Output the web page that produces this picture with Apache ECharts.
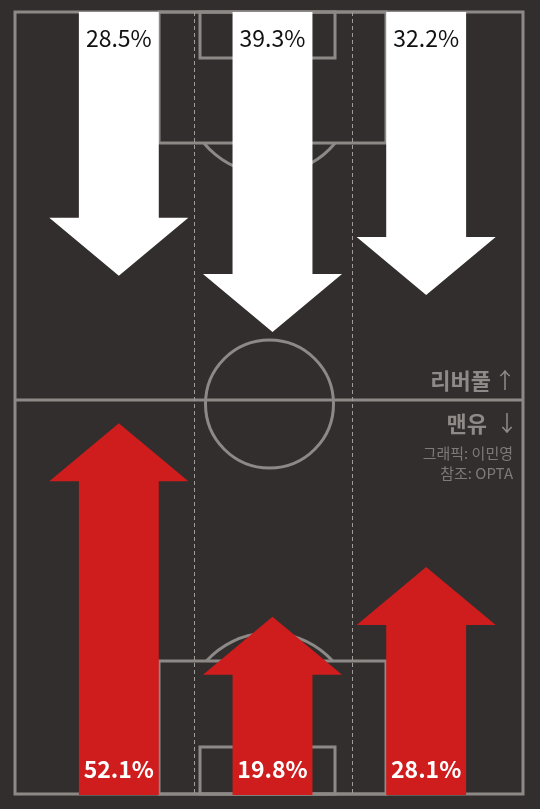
<!DOCTYPE html>
<html>
<head>
<meta charset="utf-8">
<script src="https://cdn.jsdelivr.net/npm/echarts@6/dist/echarts.min.js"></script>
<style>
    html, body { margin: 0; padding: 0; background: #322e2d; }
    #main { width: 540px; height: 809px; }
</style>
</head>
<body>
<div id="main"></div>
<script>
// 공격 방향별 비율 (왼쪽 / 중앙 / 오른쪽)
var zones = ['왼쪽', '중앙', '오른쪽'];
var liverpool = [28.5, 39.3, 32.2];
var manUtd = [52.1, 19.8, 28.1];

(function () {
    var myChart = echarts.init(document.getElementById('main'));

    var lineColor = '#8d8987';
    var font = '"Noto Sans CJK KR", "Noto Sans", sans-serif';

    // 화살표 하나 그리기 (dir 1 = 아래로, -1 = 위로)
    function makeArrow(dir, fill, textColor, weight) {
        return function (params, api) {
            var cat = api.value(0);
            var val = api.value(1);
            var tip = api.coord([cat, val]);
            var band = api.size([1, 0])[0];
            var cs = params.coordSys;
            var base = dir > 0 ? cs.y : cs.y + cs.height;
            var cx = tip[0];
            var sw = band * 0.52 / 2;
            var hw = band * 0.905 / 2;
            var hh = 58;
            var neck = tip[1] - dir * hh;
            return {
                type: 'group',
                children: [
                    {
                        type: 'polygon',
                        shape: {
                            points: [
                                [cx - sw, base], [cx + sw, base], [cx + sw, neck],
                                [cx + hw, neck], [cx, tip[1]], [cx - hw, neck], [cx - sw, neck]
                            ]
                        },
                        style: { fill: fill }
                    },
                    {
                        type: 'text',
                        style: {
                            text: val + '%',
                            x: cx,
                            y: base + dir * 26,
                            fill: textColor,
                            font: weight + ' 23px ' + font,
                            textAlign: 'center',
                            align: 'center',
                            textVerticalAlign: 'middle',
                            verticalAlign: 'middle'
                        }
                    }
                ]
            };
        };
    }

    function dataOf(arr) {
        return arr.map(function (v, i) { return [i, v]; });
    }

    var option = {
        backgroundColor: '#322e2d',
        animation: false,
        grid: [
            { left: 42, right: 37, top: 12, height: 376 },
            { left: 42, right: 37, top: 406, bottom: 14 }
        ],
        xAxis: [
            { type: 'category', gridIndex: 0, data: zones, show: false },
            { type: 'category', gridIndex: 1, data: zones, show: false }
        ],
        yAxis: [
            { type: 'value', gridIndex: 0, inverse: true, min: -22, max: 50, show: false },
            { type: 'value', gridIndex: 1, min: -10, max: 55, show: false }
        ],
        graphic: [
            // 경기장
            { type: 'rect', z: 1, shape: { x: 15, y: 12, width: 508, height: 782 }, style: { fill: 'none', stroke: lineColor, lineWidth: 3 } },
            { type: 'line', z: 1, shape: { x1: 15, y1: 400, x2: 523, y2: 400 }, style: { stroke: lineColor, lineWidth: 3 } },
            { type: 'circle', z: 1, shape: { cx: 269.5, cy: 404, r: 64 }, style: { fill: 'none', stroke: lineColor, lineWidth: 3 } },
            { type: 'rect', z: 1, shape: { x: 159, y: 12, width: 227, height: 131 }, style: { fill: 'none', stroke: lineColor, lineWidth: 3 } },
            { type: 'rect', z: 1, shape: { x: 200, y: 12, width: 135, height: 46 }, style: { fill: 'none', stroke: lineColor, lineWidth: 3 } },
            { type: 'arc', z: 1, shape: { cx: 269.5, cy: 89, r: 85, startAngle: 0.688, endAngle: 2.454 }, style: { fill: 'none', stroke: lineColor, lineWidth: 3 } },
            { type: 'rect', z: 1, shape: { x: 159, y: 661, width: 227, height: 133 }, style: { fill: 'none', stroke: lineColor, lineWidth: 3 } },
            { type: 'rect', z: 1, shape: { x: 200, y: 747, width: 135, height: 47 }, style: { fill: 'none', stroke: lineColor, lineWidth: 3 } },
            { type: 'arc', z: 1, shape: { cx: 269.5, cy: 718, r: 85, startAngle: 3.876, endAngle: 5.548 }, style: { fill: 'none', stroke: lineColor, lineWidth: 3 } },
            { type: 'line', z: 1, shape: { x1: 194.5, y1: 12, x2: 194.5, y2: 794 }, style: { stroke: '#a09c9a', lineWidth: 1, lineDash: [4, 3] } },
            { type: 'line', z: 1, shape: { x1: 352.5, y1: 12, x2: 352.5, y2: 794 }, style: { stroke: '#a09c9a', lineWidth: 1, lineDash: [4, 3] } },
            // 팀 이름
            { type: 'text', z: 1, style: { text: '리버풀', x: 491, y: 381, fill: '#8e8a88', font: 'bold 22px ' + font, textAlign: 'right', align: 'right', textVerticalAlign: 'middle', verticalAlign: 'middle' } },
            { type: 'text', z: 1, style: { text: '↑', x: 505, y: 380, fill: '#8e8a88', font: '22px ' + font, textAlign: 'center', align: 'center', textVerticalAlign: 'middle', verticalAlign: 'middle' } },
            { type: 'text', z: 1, style: { text: '맨유', x: 487, y: 424, fill: '#8e8a88', font: 'bold 22px ' + font, textAlign: 'right', align: 'right', textVerticalAlign: 'middle', verticalAlign: 'middle' } },
            { type: 'text', z: 1, style: { text: '↓', x: 507, y: 423, fill: '#8e8a88', font: '22px ' + font, textAlign: 'center', align: 'center', textVerticalAlign: 'middle', verticalAlign: 'middle' } },
            { type: 'text', z: 1, style: { text: '그래픽: 이민영', x: 513, y: 453, fill: '#7e7a78', font: '15px ' + font, textAlign: 'right', align: 'right', textVerticalAlign: 'middle', verticalAlign: 'middle' } },
            { type: 'text', z: 1, style: { text: '참조: OPTA', x: 513, y: 473, fill: '#7e7a78', font: '15px ' + font, textAlign: 'right', align: 'right', textVerticalAlign: 'middle', verticalAlign: 'middle' } }
        ],
        series: [
            {
                name: '리버풀',
                type: 'custom',
                xAxisIndex: 0,
                yAxisIndex: 0,
                z: 10,
                renderItem: makeArrow(1, '#ffffff', '#111111', 'normal'),
                data: dataOf(liverpool)
            },
            {
                name: '맨유',
                type: 'custom',
                xAxisIndex: 1,
                yAxisIndex: 1,
                z: 10,
                renderItem: makeArrow(-1, '#cf1c1c', '#ffffff', 'bold'),
                data: dataOf(manUtd)
            }
        ]
    };

    myChart.setOption(option);

    window.addEventListener('resize', function () {
        myChart.resize();
    });
})();
</script>
</body>
</html>
